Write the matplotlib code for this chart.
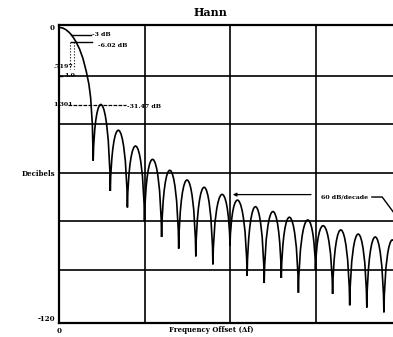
import numpy as np
import matplotlib
matplotlib.use("Agg")
import matplotlib.pyplot as plt
from matplotlib.path import Path
from matplotlib.patches import PathPatch

# main lobe (bins, dB)
main_bins = [0, 0.2, 0.4, 0.6, 0.72, 0.85, 1.0, 1.2, 1.4, 1.6, 1.75, 1.85, 1.95, 2.0]
main_db = [0, -0.2, -0.9, -2.1, -3, -4.3, -6, -8.9, -12.8, -18.3, -23.5, -29, -40, -55]

# nulls at whole bins 2..20 and side-lobe peaks between them
null_bins = list(range(2, 21))
null_db = [-55, -67.5, -74.3, -80, -86.5, -91.3, -94.5, -97.8, -90, -102.6,
           -105.5, -103.4, -109.5, -100, -110, -114.7, -115.6, -117.6, -118]
peak_db = [-32, -42.5, -49, -54.5, -59, -63, -66, -69, -71.5, -74,
           -76, -78.4, -79.6, -82, -83.6, -85.3, -86.5, -87.7]

serif = "DejaVu Serif"

fig = plt.figure(figsize=(3.93, 3.37), dpi=100)
ax = fig.add_axes([59 / 393, 1 - 323 / 337, 342 / 393, 298 / 337])
ax.set_xlim(0, 20)
ax.set_ylim(-122, 1)

# curve: main lobe as line, side lobes as bezier arches between nulls
verts = [(main_bins[0], main_db[0])]
codes = [Path.MOVETO]
for b, d in zip(main_bins[1:], main_db[1:]):
    verts.append((b, d))
    codes.append(Path.LINETO)
for i, p in enumerate(peak_db):
    a, b = null_bins[i], null_bins[i + 1]
    na, nb = null_db[i], null_db[i + 1]
    c = (p - (na + nb) / 8) / 0.75
    verts += [(a + 0.1, c), (b - 0.1, c), (b, nb)]
    codes += [Path.CURVE4] * 3
ax.add_patch(PathPatch(Path(verts, codes), fill=False, lw=1.2, color="black"))

for gx in [5, 10, 15]:
    ax.axvline(gx, color="black", lw=1.2)
for gy in [-20, -40, -60, -80, -100]:
    ax.axhline(gy, color="black", lw=1.2)
for s in ax.spines.values():
    s.set_linewidth(1.6)

ax.set_xticks([0, 20])
ax.set_xticklabels(["0", "20"])
ax.set_yticks([0, -60, -120])
ax.set_yticklabels(["0", "Decibels", "-120"])
ax.tick_params(length=0, pad=3)
for lab in ax.get_xticklabels() + ax.get_yticklabels():
    lab.set_fontfamily(serif)
    lab.set_fontweight("bold")
    lab.set_fontsize(5)

fig.text(210 / 393, 1 - 13 / 337, "Hann", ha="center", va="center",
         family=serif, weight="bold", fontsize=8)
fig.text(211 / 393, 1 - 330 / 337, "Frequency Offset (\u0394f)", ha="center",
         va="center", family=serif, weight="bold", fontsize=5)

# annotations
tk = dict(family=serif, weight="bold", fontsize=4.5, va="center")
ax.plot([0.72, 1.85], [-3, -3], color="black", lw=1)
ax.text(1.95, -3, "-3 dB", **tk)
ax.plot([0.72, 1.95], [-6, -6], color="black", lw=1)
ax.text(2.3, -7.5, "-6.02 dB", **tk)
ax.plot([0.65, 0.65], [-6, -17], color="black", lw=0.8, ls=":")
ax.plot([0.85, 0.85], [-6, -17], color="black", lw=0.8, ls=":")
ax.text(-0.35, -16, ".7197", ha="left", **tk)
ax.plot([0, 0.2], [-20, -20], color="black", lw=1)
ax.text(0.3, -20, "1.0", ha="left", **tk)
ax.text(-0.35, -32, "1.301", ha="left", **tk)
ax.plot([0.55, 3.9], [-32, -32], color="black", lw=0.9, ls=(0, (3, 1)))
ax.text(3.95, -32.5, "-31.47 dB", ha="left", **tk)
ax.annotate("", xy=(10, -69), xytext=(14.9, -69),
            arrowprops=dict(arrowstyle="-|>", color="black", lw=0.9,
                            mutation_scale=5))
ax.text(15.3, -70, "60 dB/decade", ha="left", **tk)
ax.plot([18.3, 18.9, 20], [-70, -70, -80.5], color="black", lw=1)

fig.savefig("out.png", dpi=100)
